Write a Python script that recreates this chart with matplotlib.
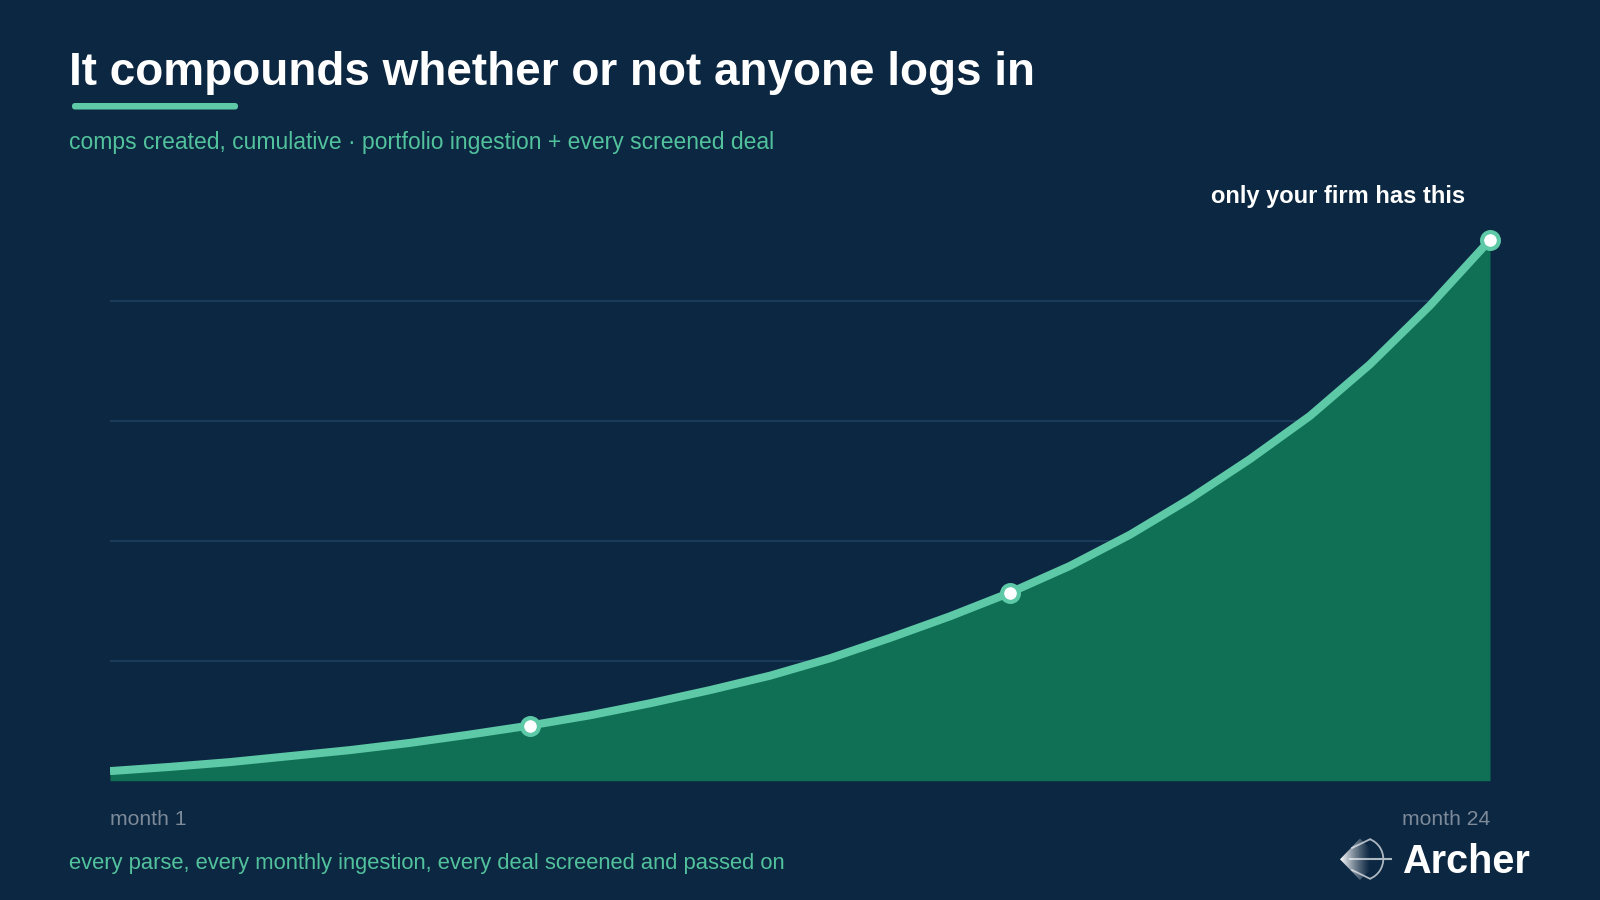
import numpy as np
import matplotlib
matplotlib.use("Agg")
import matplotlib.pyplot as plt
from matplotlib.patches import Polygon, Arc, FancyBboxPatch
import matplotlib.transforms as mtransforms

# ---- data ----
months = list(range(1, 25))
comps = [0.08, 0.115, 0.155, 0.205, 0.255, 0.315, 0.385, 0.46, 0.545, 0.645,
         0.755, 0.875, 1.02, 1.19, 1.37, 1.567, 1.79, 2.05, 2.35, 2.68,
         3.04, 3.47, 3.96, 4.506]
marker_months = [8, 16, 24]
grid_levels = [1, 2, 3, 4]
first_label = "month 1"
last_label = "month 24"
title = "It compounds whether or not anyone logs in"
subtitle = "comps created, cumulative · portfolio ingestion + every screened deal"
footer = "every parse, every monthly ingestion, every deal screened and passed on"
callout = "only your firm has this"
brand = "Archer"

BG = "#0c2741"
FILL = "#0f7056"
LINE = "#5dc9a7"
SUB = "#52c29d"
GRID = "#1b3b5a"
GREY = "#7d8a99"
LOGO_LINE = "#aeb8c2"

plt.rcParams['font.family'] = ['Liberation Sans', 'DejaVu Sans']

W, H = 1600, 900
fig = plt.figure(figsize=(16, 9), dpi=100, facecolor=BG)

# overlay axes in pixel coordinates for decoration
ov = fig.add_axes([0, 0, 1, 1], zorder=0)
ov.axis('off')
ov.set_facecolor(BG)

# main chart axes
left, right = 110, 1490
bottom_px = 780.7
ymax = 5.0
top_px = bottom_px - 120 * ymax
ax = fig.add_axes([left / W, (H - bottom_px) / H, (right - left) / W, (bottom_px - top_px) / H], zorder=1)
ax.set_facecolor('none')
ax.set_xlim(1, 24)
ax.set_ylim(0, ymax)
for s in ax.spines.values():
    s.set_visible(False)
ax.set_xticks([])
ax.set_yticks([])

for g in grid_levels:
    ax.axhline(g, color=GRID, lw=1.5, zorder=1)

ax.fill_between(months, comps, 0, color=FILL, lw=0, zorder=2)
ax.plot(months, comps, color=LINE, lw=5.8, solid_joinstyle='round', solid_capstyle='butt', zorder=3)
mv = [comps[months.index(m)] for m in marker_months]
ax.plot(marker_months, mv, ls='none', marker='o', ms=12.1, mew=3.0,
        mfc='white', mec=LINE, zorder=4, clip_on=False)

# month labels
trans = mtransforms.blended_transform_factory(ax.transData, ax.transAxes)
lab_y = -(825 - bottom_px) / (bottom_px - top_px)
ax.text(months[0], lab_y, first_label, transform=trans, ha='left', va='baseline',
        color=GREY, fontsize=15.2)
ax.text(months[-1], lab_y, last_label, transform=trans, ha='right', va='baseline',
        color=GREY, fontsize=15.2)

# callout
ax.annotate(callout, xy=(months[-1], comps[-1]), xytext=(-18, 26.5),
            textcoords='offset points', ha='right', va='baseline',
            color='white', fontsize=17, fontweight='bold', annotation_clip=False)

# title block
ov.text(69, 84.7, title, ha='left', va='baseline', color='white', fontsize=33, fontweight='bold')
ov.add_patch(FancyBboxPatch((72, 103), 166, 6.5, boxstyle="round,pad=0,rounding_size=3.2",
                            fc=LINE, ec='none'))
ov.text(69, 149, subtitle, ha='left', va='baseline', color=SUB, fontsize=16.5)
ov.text(69, 869.5, footer, ha='left', va='baseline', color=SUB, fontsize=15.8)

# brand
ov.text(1402, 873.3, brand, ha='left', va='baseline', color='white', fontsize=28.5, fontweight='bold')

# logo: bow (arc + chords) and arrow, then gradient diamond
cx, cy, r = 1362, 859, 21.3
ov.add_patch(Arc((cx, cy), 2 * r, 2 * r, theta1=-68, theta2=68, color=LOGO_LINE, lw=1.3, zorder=2))
ang = np.deg2rad(68)
tx, ty = cx + r * np.cos(ang), cy - r * np.sin(ang)
bx, by = cx + r * np.cos(ang), cy + r * np.sin(ang)
ov.plot([tx, 1352], [ty, 848], color=LOGO_LINE, lw=1.3, zorder=2)
ov.plot([bx, 1352], [by, 870], color=LOGO_LINE, lw=1.3, zorder=2)
ov.plot([1350, 1391], [859.3, 859.3], color=LOGO_LINE, lw=1.5, zorder=2)

poly = Polygon([(1340, 859.3), (1360, 838.5), (1381, 859.3), (1360, 880)],
               closed=True, fc='none', ec='none')
ov.add_patch(poly)
grad = np.zeros((2, 64, 4))
t = np.linspace(0.0, 1.0, 64)
alpha = np.clip(1.0 - t * 1.35, 0, 1) ** 1.1
grad[..., 0] = 1.0 - 0.25 * t
grad[..., 1] = 1.0 - 0.22 * t
grad[..., 2] = 1.0 - 0.18 * t
grad[..., 3] = alpha
im = ov.imshow(grad, extent=(1340, 1381, 880, 838.5), aspect='auto', zorder=3, interpolation='bilinear')
im.set_clip_path(poly)

ov.set_xlim(0, W)
ov.set_ylim(H, 0)

fig.savefig("out.png", dpi=100, facecolor=BG)
